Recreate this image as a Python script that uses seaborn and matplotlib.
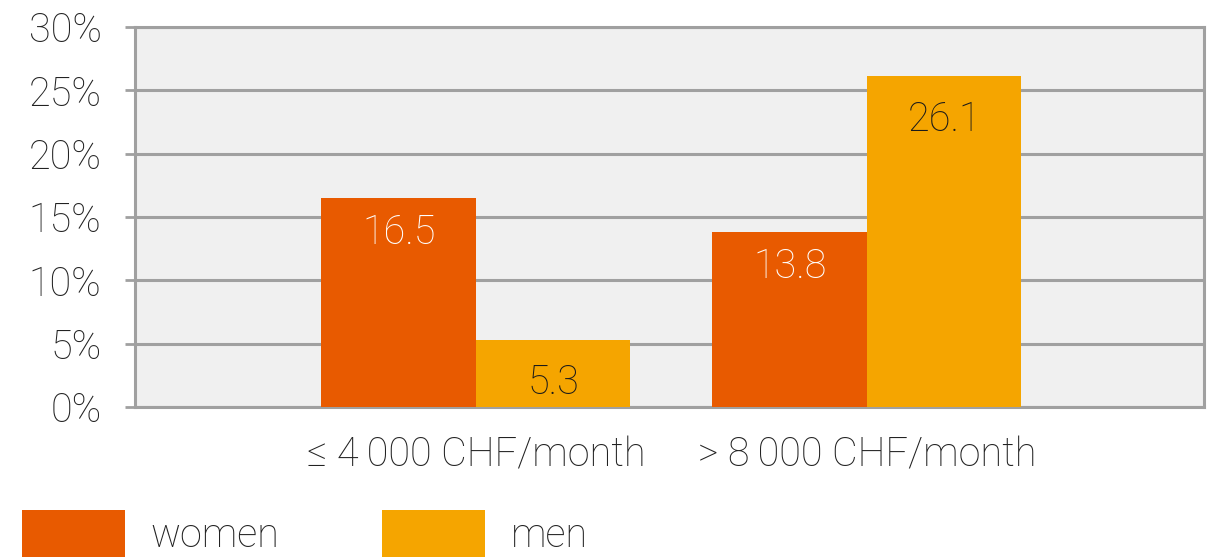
import pandas as pd
import matplotlib.pyplot as plt
import seaborn as sns
from matplotlib.patches import Patch

# Data
categories = ['\u2264 4\u2009000 CHF/month', '> 8\u2009000 CHF/month']
women = [16.5, 13.8]
men = [5.3, 26.1]
groups = ['women', 'men']
colors = {'women': '#e85a00', 'men': '#f5a500'}
label_colors = {'women': 'white', 'men': '#1a1a1a'}
label_offsets = {'women': -25, 'men': -31}

df = pd.DataFrame({
    'category': categories * 2,
    'group': ['women'] * len(categories) + ['men'] * len(categories),
    'value': women + men,
})

sns.set_style('white')
plt.rcParams['font.family'] = ['Roboto', 'DejaVu Sans']
plt.rcParams['font.weight'] = 'light'
grid_col = '#a0a0a0'
fs = 28.5

fig = plt.figure(figsize=(12.19, 5.57), dpi=100)
ax = fig.add_axes([0.1107, 0.2693, 0.877, 0.6822])
ax.set_facecolor('#f0f0f0')

sns.barplot(data=df, x='category', y='value', hue='group', hue_order=groups,
            palette=colors, width=0.79, saturation=1, ax=ax, legend=False,
            zorder=3, linewidth=0)

ax.set_ylim(0, 30)
ax.set_xlim(-0.872, 1.862)
ax.set_yticks(range(0, 31, 5))
ax.set_yticklabels([f'{v}%' for v in range(0, 31, 5)])
ax.yaxis.grid(True, color=grid_col, linewidth=2.2, zorder=1)
ax.set_axisbelow(True)
for s in ax.spines.values():
    s.set_color(grid_col)
    s.set_linewidth(2.2)
ax.tick_params(axis='y', length=7, width=2, color=grid_col, pad=17,
               labelsize=fs, labelcolor='#222222', left=True)
ax.tick_params(axis='x', length=0, pad=21, labelsize=fs, labelcolor='#222222')
ax.set_xlabel('')
ax.set_ylabel('')

# value labels inside bars, near the top
for cont, g in zip(ax.containers, groups):
    for bar in cont:
        h = bar.get_height()
        ax.annotate(f'{h:.1f}', (bar.get_x() + bar.get_width() / 2, h),
                    xytext=(0, label_offsets[g]), textcoords='offset points',
                    ha='center', va='center', fontsize=fs,
                    color=label_colors[g], zorder=4)

handles = [Patch(facecolor=colors[g], edgecolor='none', label=g) for g in groups]
fig.legend(handles=handles, loc='upper left', bbox_to_anchor=(0.018, 0.085),
           ncol=2, frameon=False, fontsize=fs, handlelength=2.6,
           handleheight=1.5, handletextpad=0.65, columnspacing=2.6,
           borderpad=0, borderaxespad=0, labelcolor='#222222')

fig.savefig('out.png', dpi=100)
